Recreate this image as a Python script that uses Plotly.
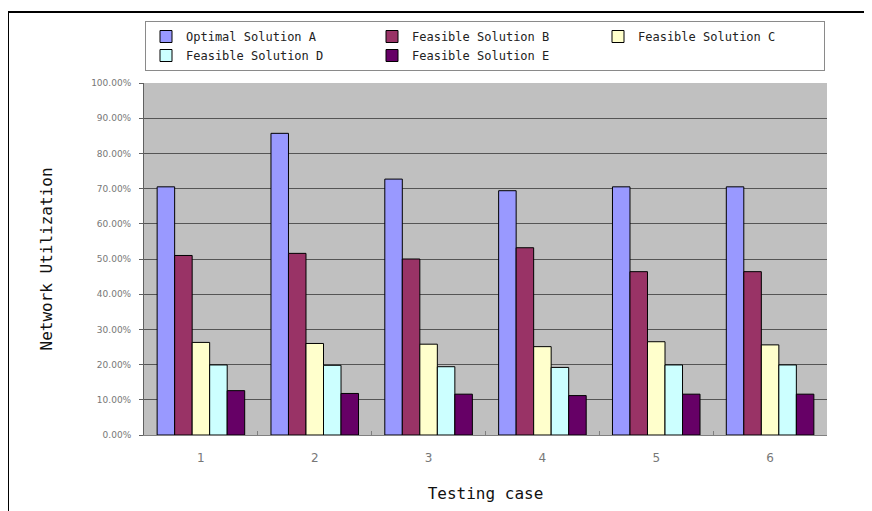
import plotly.graph_objects as go

cases = ["1", "2", "3", "4", "5", "6"]
series_names = ["Optimal Solution A", "Feasible Solution B", "Feasible Solution C",
                "Feasible Solution D", "Feasible Solution E"]
sol_a = [70.5, 85.7, 72.7, 69.4, 70.5, 70.5]
sol_b = [51.0, 51.6, 50.0, 53.2, 46.4, 46.4]
sol_c = [26.3, 26.0, 25.8, 25.1, 26.5, 25.6]
sol_d = [19.9, 19.8, 19.4, 19.2, 19.9, 19.9]
sol_e = [12.6, 11.8, 11.6, 11.2, 11.6, 11.6]
colors = ["#9999FF", "#993366", "#FFFFCC", "#CCFFFF", "#660066"]
y_ticks = [0, 10, 20, 30, 40, 50, 60, 70, 80, 90, 100]
y_tick_labels = ["0.00%", "10.00%", "20.00%", "30.00%", "40.00%", "50.00%",
                 "60.00%", "70.00%", "80.00%", "90.00%", "100.00%"]

MONO = "DejaVu Sans Mono"

fig = go.Figure()
for name, vals, col in zip(series_names, [sol_a, sol_b, sol_c, sol_d, sol_e], colors):
    fig.add_trace(go.Bar(
        x=cases, y=vals, name=name,
        marker=dict(color=col, line=dict(color="#000000", width=1)),
    ))

# The page body adds an 8px offset; figure coordinates = page coordinates - 8.
OFF = 8
W, H = 872 - OFF, 511 - OFF
L, R, T, B = 144 - OFF, 827 - OFF, 83 - OFF, 435 - OFF
pw, ph = R - L, B - T


def px_x(x_page):
    return (x_page - OFF - L) / pw


def px_y(y_page):
    return (B - (y_page - OFF)) / ph


fig.update_layout(
    width=W, height=H,
    margin=dict(l=L, r=W - R, t=T, b=H - B, autoexpand=False),
    paper_bgcolor="white",
    plot_bgcolor="#C0C0C0",
    barmode="group",
    bargap=1.5 / 6.5,
    bargroupgap=0,
    font=dict(family=MONO, color="#222222"),
    legend=dict(
        orientation="h",
        x=px_x(145), y=px_y(21), xanchor="left", yanchor="top",
        bgcolor="white", bordercolor="#8a8a8a", borderwidth=1,
        font=dict(family=MONO, size=12, color="#222222"),
        entrywidth=181, itemwidth=30,
        traceorder="normal",
    ),
    xaxis=dict(
        type="category",
        showline=True, linecolor="#808080", linewidth=1,
        ticks="inside", tickson="boundaries", ticklen=4, tickcolor="#808080",
        tickfont=dict(family="DejaVu Sans", size=12, color="#777777"),
        ticklabelstandoff=12,
        showgrid=False,
        title=dict(text="Testing case", font=dict(family=MONO, size=16, color="#111111"), standoff=23),
    ),
    yaxis=dict(
        range=[0, 100],
        tickvals=y_ticks,
        ticktext=y_tick_labels,
        showline=True, linecolor="#606060", linewidth=1,
        ticks="outside", ticklen=4, tickcolor="#606060",
        tickfont=dict(family="DejaVu Sans", size=9, color="#777777"),
        ticklabelstandoff=6,
        showgrid=True, gridcolor="#555555", gridwidth=1,
        zeroline=False,
        title=dict(text="Network Utilization", font=dict(family=MONO, size=16, color="#111111"), standoff=34),
    ),
    shapes=[
        dict(type="line", xref="paper", yref="paper",
             x0=px_x(8), x1=px_x(8), y0=px_y(12), y1=px_y(530),
             line=dict(color="black", width=2)),
        dict(type="line", xref="paper", yref="paper",
             x0=px_x(8), x1=px_x(890), y0=px_y(12), y1=px_y(12),
             line=dict(color="black", width=2)),
    ],
)

fig.write_html("out.html")
